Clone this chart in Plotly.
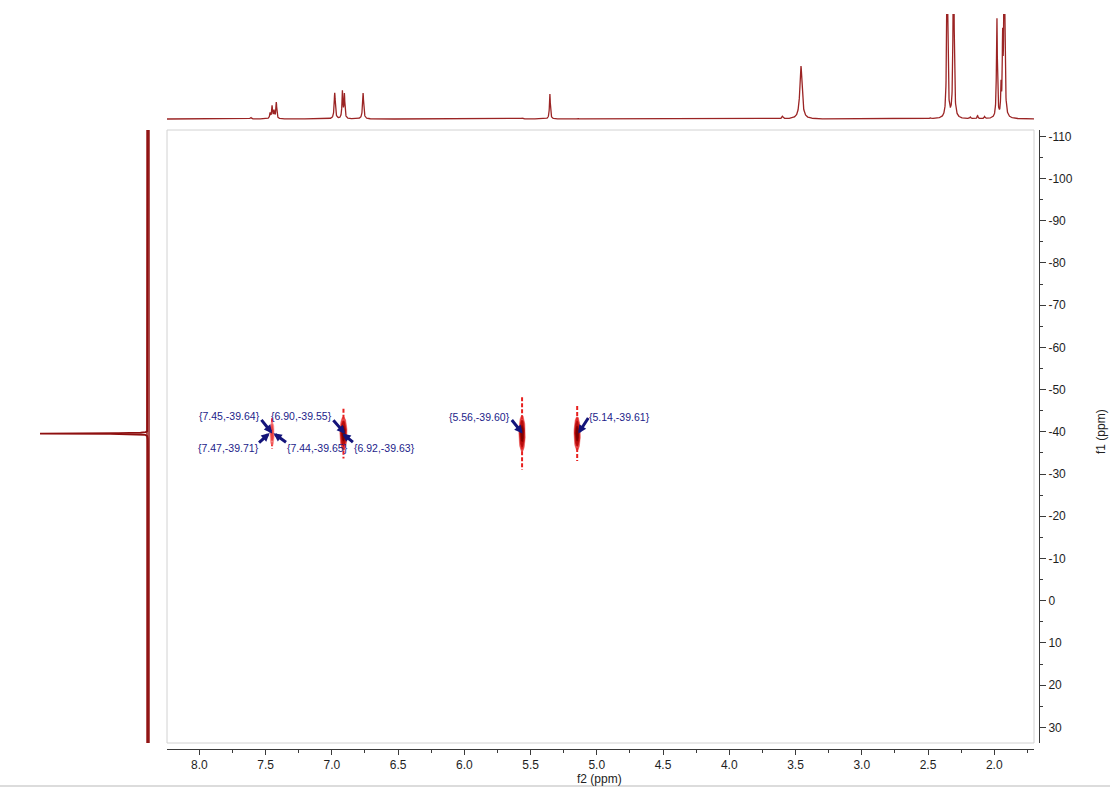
import numpy as np
import plotly.graph_objects as go

W, H = 1110, 791

# ---- f2 (1H) projection: peak list ----
f2_peak_ppm = [7.612, 7.466, 7.451, 7.436, 7.419, 6.978, 6.920, 6.905, 6.764,
               5.561, 5.354, 5.143, 3.598, 3.459, 2.483, 2.355, 2.307,
               2.181, 2.126, 2.073, 1.980, 1.949, 1.937, 1.924]
f2_peak_height = [1.5, 5.5, 12.5, 7.5, 16.5, 26, 27, 24, 26,
                  1.0, 25, 1.0, 2.5, 53, 1.0, 220, 220,
                  1.5, 3.0, 2.0, 100, 28, 70, 220]
f2_peak_width = [0.006, 0.004, 0.004, 0.004, 0.004, 0.005, 0.004, 0.004, 0.005,
                 0.005, 0.004, 0.005, 0.006, 0.010, 0.005, 0.004, 0.004,
                 0.004, 0.004, 0.004, 0.004, 0.003, 0.003, 0.004]

# ---- f1 projection: peak list ----
f1_peak_ppm = [-39.6]
f1_peak_height = [108]
f1_peak_width = [0.05]

# ---- 2D cross peaks ----
cross_f2 = [7.451, 6.912, 5.564, 5.148]
cross_f1 = [-39.6, -39.6, -39.6, -39.6]
cross_w2 = [0.016, 0.027, 0.024, 0.024]   # half widths along f2 (ppm)
cross_w1 = [2.9, 4.0, 4.3, 4.0]           # half widths along f1 (ppm)
cross_tail = [3.6, 5.9, 8.6, 6.5]         # t1-noise streak half length (ppm)
cross_weak = [True, False, False, False]

# ---- peak labels ----
label_f2 = [7.45, 6.90, 7.47, 7.44, 6.92, 5.56, 5.14]
label_f1 = [-39.64, -39.55, -39.71, -39.65, -39.63, -39.60, -39.61]

# label placement (anchor side, text shift px, arrow tail offset px)
label_side = ['right', 'right', 'right', 'left', 'left', 'right', 'left']
label_shift = [(-10, 17), (-11, 18), (-9, -15), (11, -15), (10, -15), (-11, 17), (9, 17)]
arrow_tail = [(-12, -15), (-13, -15), (-12, 11), (14, 10), (12, 10), (-12, -15), (11, -17)]

# ---- axis ranges ----
F2_RANGE = [8.244, 1.70]
F1_RANGE = [33.7, -111.5]


def px_x(p):
    return p / W


def px_y(p):
    return 1 - p / H


def lorentz_sum(grid, centers, heights, widths):
    out = np.zeros_like(grid)
    for c, h, g in zip(centers, heights, widths):
        out += h * g * g / ((grid - c) ** 2 + g * g)
    return out


fig = go.Figure()

# 2D cross peaks: streaks then nested contour levels
t = np.linspace(0, 2 * np.pi, 80)
for x0, y0, w2, w1, tail, weak in zip(cross_f2, cross_f1, cross_w2, cross_w1, cross_tail, cross_weak):
    fig.add_trace(go.Scatter(
        x=[x0, x0], y=[y0 - tail, y0 + tail], mode='lines',
        line=dict(color='#e8201e', width=2, dash='4px,2px'),
        hoverinfo='skip', showlegend=False))
    if weak:
        levels = [(1.0, 'rgba(244,100,100,0.8)'), (0.6, '#e84040')]
    else:
        levels = [(1.0, 'rgba(226,40,40,0.85)'), (0.75, '#b80c0c'), (0.45, '#7e0000')]
    for s, col in levels:
        fig.add_trace(go.Scatter(
            x=x0 + s * w2 * np.cos(t), y=y0 + s * w1 * np.sin(t),
            mode='lines', fill='toself', fillcolor=col,
            line=dict(color=col, width=0.5),
            hoverinfo='skip', showlegend=False))

# top projection
grid2 = np.linspace(F2_RANGE[0], F2_RANGE[1], 7000)
fig.add_trace(go.Scatter(
    x=grid2, y=lorentz_sum(grid2, f2_peak_ppm, f2_peak_height, f2_peak_width),
    mode='lines', line=dict(color='#9b2424', width=1.3),
    xaxis='x', yaxis='y3', hoverinfo='skip', showlegend=False))

# left projection: noisy baseline band + peak
fig.add_trace(go.Scatter(
    x=[0, 0], y=[F1_RANGE[1], F1_RANGE[0]], mode='lines',
    line=dict(color='rgba(150,25,25,0.75)', width=4),
    xaxis='x2', yaxis='y', hoverinfo='skip', showlegend=False))
grid1 = np.linspace(F1_RANGE[1], F1_RANGE[0], 30000)
fig.add_trace(go.Scatter(
    x=lorentz_sum(grid1, f1_peak_ppm, f1_peak_height, f1_peak_width), y=grid1,
    mode='lines', line=dict(color='#8e0f0f', width=1.8),
    xaxis='x2', yaxis='y', hoverinfo='skip', showlegend=False))

# peak labels with arrows
annotations = []
for x0, y0, side, (sx, sy), (ax, ay) in zip(label_f2, label_f1, label_side, label_shift, arrow_tail):
    annotations.append(dict(
        x=x0, y=y0, xref='x', yref='y', text='', showarrow=True,
        ax=ax, ay=ay, arrowhead=2, arrowsize=0.55, arrowwidth=3,
        arrowcolor='#14147a'))
    annotations.append(dict(
        x=x0, y=y0, xref='x', yref='y', text='{%.2f,%.2f}' % (x0, y0),
        showarrow=False, xanchor=side, yanchor='middle', xshift=sx, yshift=sy,
        font=dict(family='Liberation Sans, Arial, sans-serif', size=10.5, color='#1c1c8a')))

annotations.append(dict(
    x=px_x(599), y=px_y(779), xref='paper', yref='paper', text='f2 (ppm)',
    showarrow=False, xanchor='center', yanchor='middle',
    font=dict(family='Liberation Sans, Arial, sans-serif', size=12, color='#222')))
annotations.append(dict(
    x=px_x(1101), y=px_y(432), xref='paper', yref='paper', text='f1 (ppm)',
    showarrow=False, xanchor='center', yanchor='middle', textangle=-90,
    font=dict(family='Liberation Sans, Arial, sans-serif', size=12, color='#222')))

f1_ticks = list(range(-110, 31, 10))
f1_minor = list(range(-105, 31, 10))

axis_font = dict(family='Liberation Sans, Arial, sans-serif', size=12, color='#1e1e1e')

fig.update_layout(
    width=W, height=H,
    margin=dict(l=0, r=0, t=0, b=0),
    paper_bgcolor='white', plot_bgcolor='white',
    showlegend=False,
    annotations=annotations,
    xaxis=dict(
        domain=[px_x(167), px_x(1034)], range=F2_RANGE,
        anchor='free', position=px_y(749),
        showline=True, linecolor='#3a3a3a', linewidth=1,
        ticks='outside', ticklen=5, tickcolor='#3a3a3a',
        tick0=0, dtick=0.5, tickformat='.1f', tickfont=axis_font,
        minor=dict(dtick=0.25, ticklen=3, tickcolor='#3a3a3a', ticks='outside', showgrid=False),
        showgrid=False, zeroline=False),
    yaxis=dict(
        domain=[px_y(743), px_y(130)], range=F1_RANGE,
        anchor='free', position=px_x(1039), side='right',
        showline=True, linecolor='#3a3a3a', linewidth=1,
        ticks='outside', ticklen=6, tickcolor='#3a3a3a',
        tickmode='array', tickvals=f1_ticks, ticktext=[str(v) for v in f1_ticks],
        tickfont=axis_font,
        minor=dict(tickmode='array', tickvals=f1_minor, ticklen=3,
                   tickcolor='#3a3a3a', ticks='outside', showgrid=False),
        showgrid=False, zeroline=False),
    xaxis2=dict(
        domain=[px_x(36), px_x(152)], range=[112, -4], anchor='y',
        visible=False, showgrid=False, zeroline=False),
    yaxis3=dict(
        domain=[px_y(121), px_y(14)], range=[-2, 105], anchor='x',
        visible=False, showgrid=False, zeroline=False),
    shapes=[
        dict(type='rect', xref='paper', yref='paper',
             x0=px_x(167), x1=px_x(1034), y0=px_y(743), y1=px_y(130),
             line=dict(color='#d2d2d2', width=1), layer='below'),
        dict(type='line', xref='paper', yref='paper',
             x0=0, x1=1, y0=px_y(786), y1=px_y(786),
             line=dict(color='#dcdcdc', width=2)),
    ],
)

fig.write_html('out.html')
